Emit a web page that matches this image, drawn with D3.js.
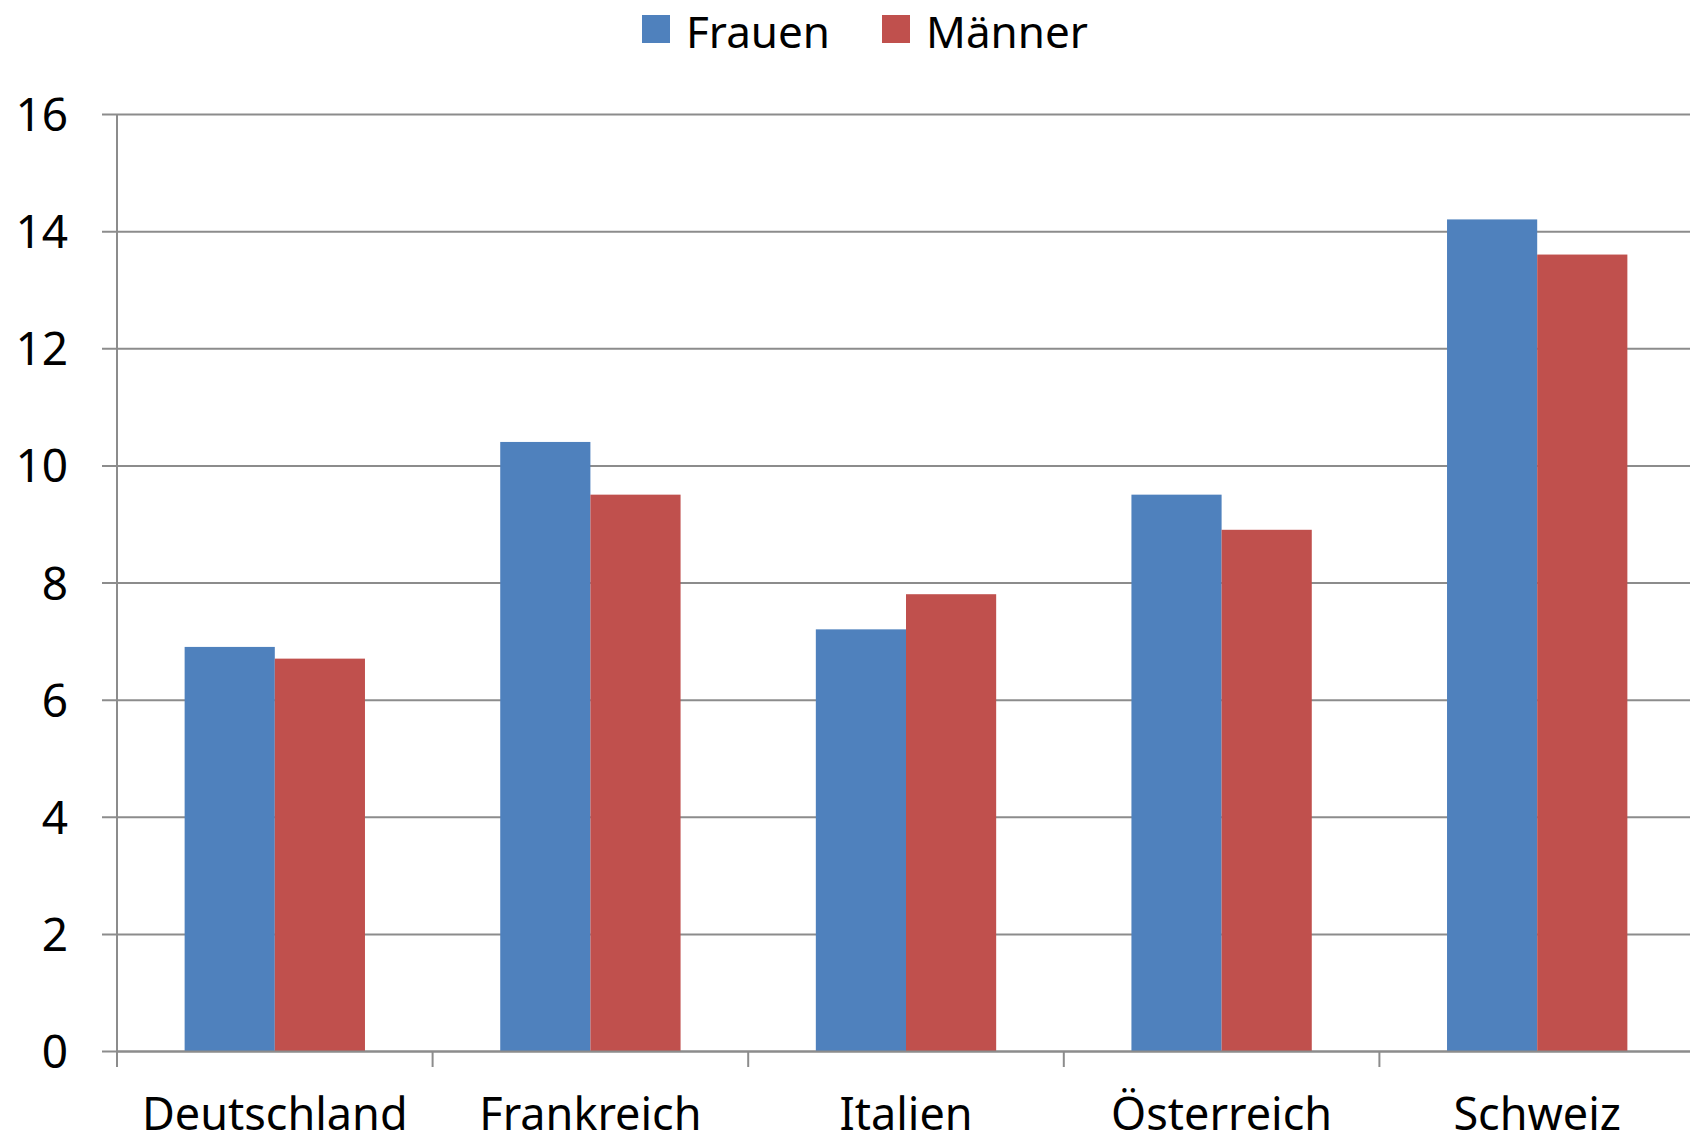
<!DOCTYPE html>
<html>
<head>
<meta charset="utf-8">
<script src="https://cdn.jsdelivr.net/npm/d3@7"></script>
<style>
  body { margin: 0; background: #fff; }
  svg text { font-family: "Noto Sans", "Open Sans", sans-serif; fill: #000; }
</style>
</head>
<body>
<svg id="chart"></svg>
<script>
var width = 1690,
    height = 1142,
    margin = {top: 114, right: -5, bottom: 91, left: 117};

var categories = ["Deutschland", "Frankreich", "Italien", "Österreich", "Schweiz"],
    seriesNames = ["Frauen", "Männer"],
    frauen = [6.9, 10.4, 7.2, 9.5, 14.2],
    maenner = [6.7, 9.5, 7.8, 8.9, 13.6],
    yTicks = [0, 2, 4, 6, 8, 10, 12, 14, 16],
    colors = ["#4f81bd", "#c0504d"];

var svg = d3.select("#chart").attr("width", width).attr("height", height);

var innerW = width - margin.left - margin.right,
    innerH = height - margin.top - margin.bottom;

var g = svg.append("g").attr("transform", "translate(" + margin.left + "," + margin.top + ")");

var x0 = d3.scaleBand().domain(categories).range([0, innerW]).padding(0),
    x1 = d3.scaleBand().domain(seriesNames).range([0, x0.bandwidth()]).paddingInner(0).paddingOuter(0.75),
    y = d3.scaleLinear().domain([0, 16]).range([innerH, 0]);

var color = d3.scaleOrdinal().domain(seriesNames).range(colors);

// gridlines + y labels
var yAxis = g.append("g")
    .call(d3.axisLeft(y).tickValues(yTicks).tickSize(-innerW - 15))
    .attr("transform", "translate(-15,0)");
yAxis.select(".domain").remove();
yAxis.selectAll(".tick line").attr("stroke", "#8c8c8c").attr("stroke-width", 2).attr("x1", 0);
yAxis.selectAll(".tick text").attr("x", -34).style("font-size", "46px").attr("dy", "0.36em");

// y axis line
g.append("line")
    .attr("x1", 0).attr("x2", 0).attr("y1", 0).attr("y2", innerH + 16)
    .attr("stroke", "#8c8c8c").attr("stroke-width", 2);

// bars
var rows = categories.map(function(c, i) {
    return {cat: c, values: [{key: "Frauen", v: frauen[i]}, {key: "Männer", v: maenner[i]}]};
});

g.selectAll(".cat")
    .data(rows)
    .enter().append("g")
    .attr("transform", function(d) { return "translate(" + x0(d.cat) + ",0)"; })
    .selectAll("rect")
    .data(function(d) { return d.values; })
    .enter().append("rect")
    .attr("x", function(d) { return x1(d.key); })
    .attr("y", function(d) { return y(d.v); })
    .attr("width", x1.bandwidth())
    .attr("height", function(d) { return innerH - y(d.v); })
    .attr("fill", function(d) { return color(d.key); });

// x axis
var xAxis = g.append("g")
    .attr("transform", "translate(0," + innerH + ")")
    .call(d3.axisBottom(x0).tickSize(0).tickPadding(47));
xAxis.select(".domain").attr("stroke", "#8c8c8c").attr("stroke-width", 2);
xAxis.selectAll(".tick text").style("font-size", "45px");

// category boundary ticks
g.selectAll(".ctick")
    .data(categories.slice(1))
    .enter().append("line")
    .attr("x1", function(d) { return x0(d); })
    .attr("x2", function(d) { return x0(d); })
    .attr("y1", innerH).attr("y2", innerH + 16)
    .attr("stroke", "#8c8c8c").attr("stroke-width", 2);

// legend
var legendX = [642, 882];
var legend = svg.append("g").selectAll("g")
    .data(seriesNames)
    .enter().append("g")
    .attr("transform", function(d, i) { return "translate(" + legendX[i] + ",15)"; });
legend.append("rect")
    .attr("width", 28).attr("height", 28)
    .attr("fill", function(d) { return color(d); });
legend.append("text")
    .attr("x", 44).attr("y", 33)
    .style("font-size", "44px")
    .text(function(d) { return d; });
</script>
</body>
</html>
